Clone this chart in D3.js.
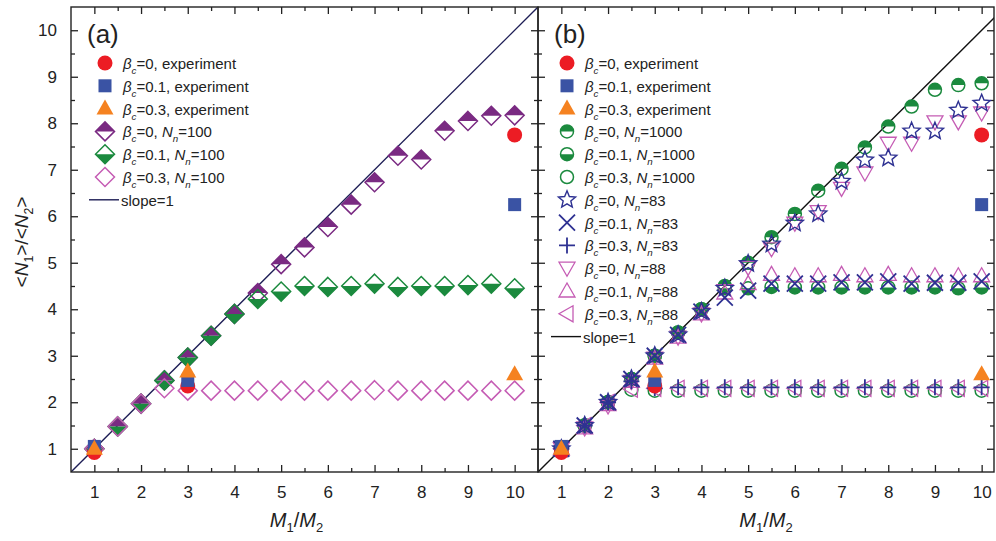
<!DOCTYPE html>
<html><head><meta charset="utf-8">
<script src="https://cdn.jsdelivr.net/npm/d3@7"></script>
<style>body{margin:0;background:#fff}svg{display:block}text{font-family:"Liberation Sans",Arial,sans-serif;fill:#222}</style>
</head><body><svg id="c" width="996" height="541"></svg>
<script>
// ---- data ----
const xs = [1,1.5,2,2.5,3,3.5,4,4.5,5,5.5,6,6.5,7,7.5,8,8.5,9,9.5,10];
const xTicks = [1,2,3,4,5,6,7,8,9,10];
const yTicks = [1,2,3,4,5,6,7,8,9,10];
const expX = [1,3,10];
const exp_b0 = [0.92,2.35,7.75];
const exp_b01 = [1.05,2.47,6.25];
const exp_b03 = [1.0,2.66,2.6];
// panel (a)
const a_b0_N100 = [1.0,1.48,1.97,2.47,2.96,3.43,3.9,4.35,4.97,5.33,5.77,6.25,6.73,7.3,7.22,7.84,8.05,8.16,8.17];
const a_b01_N100 = [1.0,1.48,1.97,2.47,2.96,3.43,3.9,4.22,4.38,4.5,4.48,4.5,4.55,4.48,4.5,4.5,4.52,4.55,4.45];
const a_b03_N100 = [1.0,1.48,1.97,2.3,2.25,2.25,2.25,2.25,2.25,2.25,2.25,2.25,2.26,2.25,2.25,2.25,2.25,2.25,2.25];
// panel (b)
const b_b0_N1000 = [1,1.5,2,2.5,3,3.5,4,4.5,5,5.55,6.05,6.55,7.02,7.48,7.93,8.36,8.72,8.82,8.86];
const b_b01_N1000 = [1,1.5,2,2.5,3,3.5,4,4.45,4.45,4.48,4.47,4.47,4.47,4.47,4.47,4.47,4.47,4.45,4.47];
const b_b03_N1000 = [1,1.5,2,2.27,2.25,2.25,2.25,2.25,2.25,2.25,2.25,2.25,2.25,2.25,2.25,2.25,2.25,2.25,2.25];
const b_b0_N83 = [1,1.5,2,2.5,3,3.45,3.95,4.45,4.98,5.4,5.85,6.05,6.75,7.21,7.25,7.83,7.83,8.28,8.43];
const b_b01_N83 = [1,1.5,2,2.5,3,3.45,3.95,4.25,4.4,4.55,4.55,4.55,4.58,4.58,4.6,4.55,4.57,4.57,4.6];
const b_b03_N83 = [1,1.5,2,2.45,2.3,2.32,2.32,2.32,2.32,2.32,2.32,2.32,2.32,2.32,2.32,2.32,2.32,2.32,2.32];
const b_b0_N88 = [1,1.45,1.92,2.45,2.95,3.4,3.9,4.4,4.9,5.3,5.85,6.1,6.6,6.93,7.57,7.57,8.03,8.03,8.22];
const b_b01_N88 = [1,1.45,1.95,2.45,2.95,3.4,3.9,4.35,4.55,4.75,4.72,4.72,4.75,4.72,4.75,4.72,4.72,4.72,4.72];
const b_b03_N88 = [1,1.5,2,2.28,2.3,2.3,2.3,2.3,2.3,2.3,2.3,2.3,2.3,2.3,2.3,2.3,2.3,2.3,2.3];

const C = {red:"#ec1c24", blue:"#3a53a4", orange:"#f58220", purple:"#7a2a82", green:"#1b8a3e", pink:"#c55cb4", navy:"#2e3192"};

const svg = d3.select("#c");

// marker drawing
function marker(g, type, color, x, y) {
  const s = g.append("g").attr("transform", `translate(${x},${y})`);
  const sw = 1.5;
  switch (type) {
    case "circleF": s.append("circle").attr("r",7.5).attr("fill",color); break;
    case "squareF": s.append("rect").attr("x",-6.5).attr("y",-6.5).attr("width",13).attr("height",13).attr("fill",color); break;
    case "triF": s.append("path").attr("d","M0,-9 L8.5,6 L-8.5,6 Z").attr("fill",color); break;
    case "diaTop": case "diaBot": case "diaOpen": {
      const r = 9.5;
      if (type==="diaTop") s.append("path").attr("d",`M${-r},0 L0,${-r} L${r},0 Z`).attr("fill",color);
      if (type==="diaBot") s.append("path").attr("d",`M${-r},0 L0,${r} L${r},0 Z`).attr("fill",color);
      s.append("path").attr("d",`M0,${-r} L${r},0 L0,${r} L${-r},0 Z`).attr("fill","none").attr("stroke",color).attr("stroke-width",sw);
      break; }
    case "cirTop": case "cirBot": case "cirOpen": {
      const r = 6.5;
      if (type==="cirTop") s.append("path").attr("d",`M${-r},0 A${r},${r} 0 0 1 ${r},0 Z`).attr("fill",color);
      if (type==="cirBot") s.append("path").attr("d",`M${-r},0 A${r},${r} 0 0 0 ${r},0 Z`).attr("fill",color);
      s.append("circle").attr("r",r).attr("fill","none").attr("stroke",color).attr("stroke-width",sw);
      break; }
    case "star": {
      const pts = [];
      for (let i=0;i<10;i++){ const a = -Math.PI/2 + i*Math.PI/5; const rr = i%2===0?9:4; pts.push([rr*Math.cos(a), rr*Math.sin(a)]); }
      s.append("path").attr("d","M"+pts.map(p=>p.join(",")).join("L")+"Z").attr("fill","none").attr("stroke",color).attr("stroke-width",1.4);
      break; }
    case "cross": s.append("path").attr("d","M-8,-8L8,8M-8,8L8,-8").attr("stroke",color).attr("stroke-width",1.8).attr("fill","none"); break;
    case "plus": s.append("path").attr("d","M-8,0L8,0M0,-8L0,8").attr("stroke",color).attr("stroke-width",1.8).attr("fill","none"); break;
    case "triDown": s.append("path").attr("d","M-8,-6 L8,-6 L0,8 Z").attr("fill","none").attr("stroke",color).attr("stroke-width",1.3); break;
    case "triUp": s.append("path").attr("d","M-8,6 L8,6 L0,-8 Z").attr("fill","none").attr("stroke",color).attr("stroke-width",1.3); break;
    case "triLeft": s.append("path").attr("d","M6,-8 L6,8 L-8,0 Z").attr("fill","none").attr("stroke",color).attr("stroke-width",1.3); break;
  }
}

function richText(t, parts) {
  let shift = 0;
  parts.forEach(p => {
    const ts = t.append("tspan").text(p.t);
    if (p.i) ts.attr("font-style","italic");
    const want = p.sub ? 5 : 0;
    if (want !== shift) { ts.attr("dy", want - shift); shift = want; }
    if (p.sub) ts.attr("font-size", "0.65em");
  });
}
const beta = (v, rest) => [{t:"β",i:true},{t:"c",i:true,sub:true},{t:"="+v+rest}];
const betaN = (v, n) => [{t:"β",i:true},{t:"c",i:true,sub:true},{t:"="+v+", "},{t:"N",i:true},{t:"n",i:true,sub:true},{t:"="+n}];

function panel(cfg) {
  const x = d3.scaleLinear().domain([0.5, 0.5 + (cfg.x1 - cfg.x0)/46.7]).range([cfg.x0, cfg.x1]);
  const y = d3.scaleLinear().domain([0.5, 10.5]).range([472, 7]);
  const g = svg.append("g");
  const clipId = "clip" + cfg.name;
  svg.append("clipPath").attr("id", clipId).append("rect").attr("x",cfg.x0).attr("y",7).attr("width",cfg.x1-cfg.x0).attr("height",465);

  // slope line
  g.append("line").attr("clip-path",`url(#${clipId})`)
    .attr("x1",x(0.5)).attr("y1",y(0.5)).attr("x2",x(10.5)).attr("y2",y(10.5))
    .attr("stroke",cfg.lineColor).attr("stroke-width",1.4);

  // axes with inward ticks
  const minor = d3.range(1.5, 10.5, 1);
  const axB = d3.axisBottom(x).tickValues(xTicks).tickSize(-7).tickFormat(d3.format("d")).tickPadding(14);
  const axT = d3.axisTop(x).tickValues(xTicks).tickSize(-7).tickFormat("");
  const axBm = d3.axisBottom(x).tickValues(minor).tickSize(-4).tickFormat("");
  const axTm = d3.axisTop(x).tickValues(minor).tickSize(-4).tickFormat("");
  const axL = d3.axisLeft(y).tickValues(yTicks).tickSize(-7).tickFormat(cfg.yLabels ? d3.format("d") : "").tickPadding(14);
  const axR = d3.axisRight(y).tickValues(yTicks).tickSize(-7).tickFormat("");
  const axLm = d3.axisLeft(y).tickValues(minor).tickSize(-4).tickFormat("");
  const axRm = d3.axisRight(y).tickValues(minor).tickSize(-4).tickFormat("");
  const put = (ax, tr) => { const a = g.append("g").attr("transform", tr).call(ax);
    a.select(".domain").remove(); a.selectAll("line").attr("stroke","#222").attr("stroke-width",1.3);
    a.selectAll("text").attr("font-size",17).attr("fill","#222").attr("font-family","Liberation Sans, Arial, sans-serif"); return a; };
  put(axB, `translate(0,472)`); put(axT, `translate(0,7)`); put(axBm, `translate(0,472)`); put(axTm, `translate(0,7)`);
  put(axL, `translate(${cfg.x0},0)`); put(axLm, `translate(${cfg.x0},0)`);
  put(axR, `translate(${cfg.x1},0)`); put(axRm, `translate(${cfg.x1},0)`);
  g.append("rect").attr("x",cfg.x0).attr("y",7).attr("width",cfg.x1-cfg.x0).attr("height",465)
    .attr("fill","none").attr("stroke","#222").attr("stroke-width",1.4);

  // data series
  const mg = g.append("g");
  cfg.series.forEach(s => {
    s.data.forEach((v,i) => { if (v != null) marker(mg, s.type, s.color, x(s.xs[i]), y(v)); });
  });

  // panel label
  g.append("text").attr("x",cfg.x0+16).attr("y",43).attr("font-size",26).text(cfg.label);

  // legend
  const lg = g.append("g");
  cfg.series.slice().sort((a,b)=>a.li-b.li).forEach((s, k) => {
    const ly = 63 + k*22.8;
    marker(lg, s.type, s.color, cfg.lx, ly);
    const t = lg.append("text").attr("x", cfg.lx+18).attr("y", ly+6).attr("font-size",15);
    richText(t, s.label);
  });
  const ly = 63 + cfg.series.length*22.8;
  lg.append("line").attr("x1",cfg.lx-16).attr("x2",cfg.lx+14).attr("y1",ly).attr("y2",ly).attr("stroke",cfg.lineColor).attr("stroke-width",1.4);
  lg.append("text").attr("x",cfg.lx+16).attr("y",ly+6).attr("font-size",15).text("slope=1");

  // x title
  const xt = g.append("text").attr("x",(cfg.x0+cfg.x1)/2 + cfg.xtOff).attr("y",527).attr("font-size",20).attr("text-anchor","middle");
  richText(xt, [{t:"M",i:true},{t:"1",sub:true},{t:"/"},{t:"M",i:true},{t:"2",sub:true}]);
}

const expSeries = [
  {type:"circleF", color:C.red, xs:expX, data:exp_b0, label:beta(0,", experiment"), li:0},
  {type:"squareF", color:C.blue, xs:expX, data:exp_b01, label:beta(0.1,", experiment"), li:1},
  {type:"triF", color:C.orange, xs:expX, data:exp_b03, label:beta(0.3,", experiment"), li:2}
];

panel({name:"a", x0:71, x1:538, yLabels:true, label:"(a)", lx:105, lineColor:"#1d1d55", xtOff:-8,
  series:[
    {type:"diaTop", color:C.purple, xs:xs, data:a_b0_N100, label:betaN(0,100), li:3},
    {type:"diaBot", color:C.green, xs:xs, data:a_b01_N100, label:betaN(0.1,100), li:4},
    {type:"diaOpen", color:C.pink, xs:xs, data:a_b03_N100, label:betaN(0.3,100), li:5},
    ...expSeries
  ]});

panel({name:"b", x0:538, x1:994, yLabels:false, label:"(b)", lx:567, lineColor:"#111", xtOff:0,
  series:[
    {type:"cirTop", color:C.green, xs:xs, data:b_b0_N1000, label:betaN(0,1000), li:3},
    {type:"cirBot", color:C.green, xs:xs, data:b_b01_N1000, label:betaN(0.1,1000), li:4},
    {type:"cirOpen", color:C.green, xs:xs, data:b_b03_N1000, label:betaN(0.3,1000), li:5},
    {type:"triDown", color:C.pink, xs:xs, data:b_b0_N88, label:betaN(0,88), li:9},
    {type:"triUp", color:C.pink, xs:xs, data:b_b01_N88, label:betaN(0.1,88), li:10},
    {type:"triLeft", color:C.pink, xs:xs, data:b_b03_N88, label:betaN(0.3,88), li:11},
    {type:"star", color:C.navy, xs:xs, data:b_b0_N83, label:betaN(0,83), li:6},
    {type:"cross", color:C.navy, xs:xs, data:b_b01_N83, label:betaN(0.1,83), li:7},
    {type:"plus", color:C.navy, xs:xs, data:b_b03_N83, label:betaN(0.3,83), li:8},
    ...expSeries
  ]});

// y title
const yt = svg.append("text").attr("transform","translate(28,242) rotate(-90)").attr("font-size",19).attr("text-anchor","middle");
richText(yt, [{t:"<"},{t:"N",i:true},{t:"1",sub:true},{t:">/<"},{t:"N",i:true},{t:"2",sub:true},{t:">"}]);
</script></body></html>
